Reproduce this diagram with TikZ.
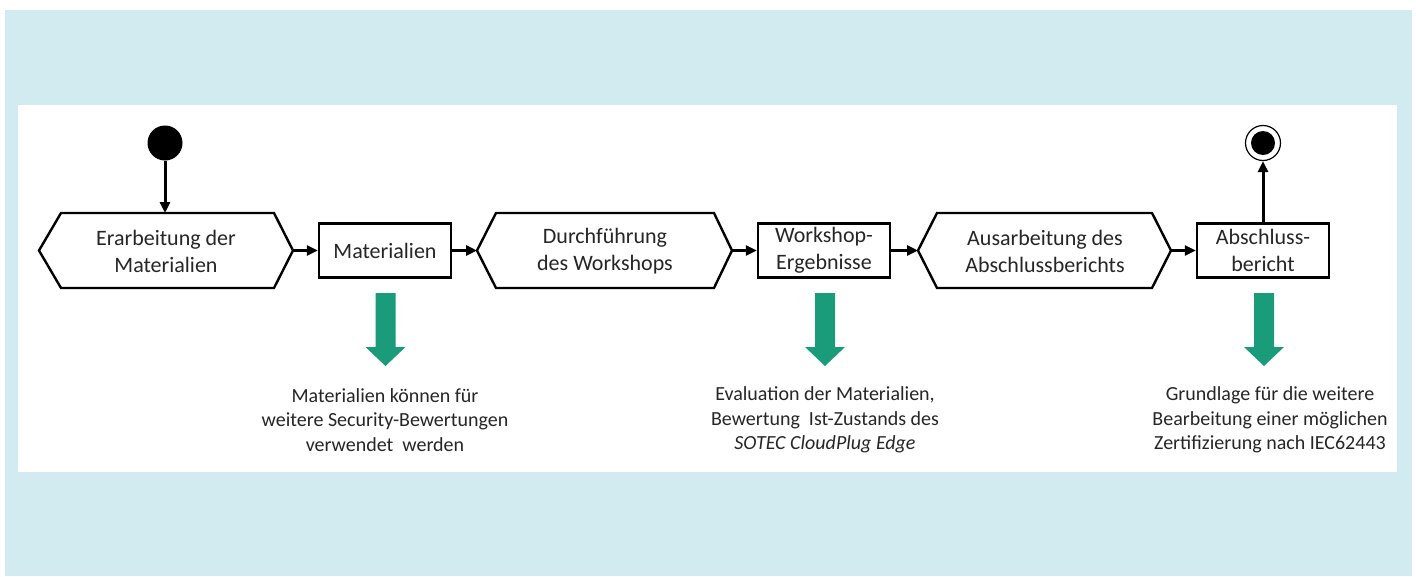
\documentclass[tikz,border=0pt]{standalone}
\usepackage{fontspec}
\setmainfont{Carlito}
\usetikzlibrary{arrows.meta}
\definecolor{bgblue}{HTML}{D2EBF0}
\definecolor{arrowgreen}{HTML}{1A9B7A}
\definecolor{txt}{HTML}{262626}
\begin{document}
\begin{tikzpicture}[x=1pt,y=-1pt,
  shapeline/.style={draw=black,line width=2.4pt,line join=miter,fill=white},
  boxtext/.style={text=txt,font=\fontsize{22}{27}\selectfont,align=center,inner sep=0pt},
  notetext/.style={text=txt,font=\fontsize{20}{24.5}\selectfont,align=center,inner sep=0pt},
  actbox/.style={shapeline,minimum width=132pt,minimum height=54pt,inner sep=0pt,text=txt,font=\fontsize{22}{27}\selectfont,align=center},
  flow/.style={line width=3pt,-{Triangle[length=11pt,width=10pt]}},
  bigarrow/.style={fill=arrowgreen,draw=none}
]
\useasboundingbox (0,0) rectangle (1416,576);
\fill[white] (0,0) rectangle (1416,576);
\fill[bgblue] (5,10) rectangle (1412,576);
\fill[white] (18,105) rectangle (1397,472);

% hexagon 1
\coordinate (h1l) at (39,250.5);
\coordinate (h1r) at (293,250.5);
\coordinate (h1t) at (165,213);
\draw[shapeline] (h1l) -- (61,213) -- (274,213) -- (h1r) -- (274,288) -- (61,288) -- cycle;
\node[boxtext] (h1) at (166,251) {Erarbeitung der\\Materialien};

% box 1
\node[actbox] (b1) at (385,250.5) {Materialien};

% hexagon 2
\coordinate (h2l) at (477,250.5);
\coordinate (h2r) at (732,250.5);
\draw[shapeline] (h2l) -- (496,213) -- (714,213) -- (h2r) -- (714,288) -- (496,288) -- cycle;
\node[boxtext] (h2) at (605,251) {Durchführung\\des Workshops};

% box 2
\node[actbox] (b2) at (824,250.5) {Workshop-\\Ergebnisse};

% hexagon 3
\coordinate (h3l) at (918,250.5);
\coordinate (h3r) at (1171,250.5);
\draw[shapeline] (h3l) -- (937,213) -- (1152,213) -- (h3r) -- (1152,288) -- (937,288) -- cycle;
\node[boxtext] (h3) at (1045,251) {Ausarbeitung des\\Abschlussberichts};

% box 3
\node[actbox] (b3) at (1263,250.5) {Abschluss-\\bericht};

% start and end
\node[circle,fill=black,minimum size=35pt,inner sep=0pt] (start) at (165,143) {};
\node[circle,draw=black,line width=1.2pt,fill=white,minimum size=35pt,inner sep=0pt] (endring) at (1263,143) {};
\node[circle,fill=black,minimum size=24pt,inner sep=0pt] (enddot) at (1263,143) {};

% connectors
\draw[flow] (start) -- (h1t);
\draw[flow] (h1r) -- (b1.west);
\draw[flow] (b1.east) -- (h2l);
\draw[flow] (h2r) -- (b2.west);
\draw[flow] (b2.east) -- (h3l);
\draw[flow] (h3r) -- (b3.west);
\draw[flow] (b3.north) -- (endring.south);

% green arrows
\foreach \cx in {385.5,825,1264}{
  \fill[bigarrow] (\cx-10,293) -- (\cx+10,293) -- (\cx+10,347) -- (\cx+20,347) -- (\cx,366) -- (\cx-20,347) -- (\cx-10,347) -- cycle;
}

% notes
\node[notetext] (n1) at (385,420) {Materialien können für\\weitere Security-Bewertungen\\verwendet\ \ werden};
\node[notetext] (n2) at (825,420) {Evaluation der Materialien,\\Bewertung\ \ Ist-Zustands des\\\textit{SOTEC CloudPlug Edge}};
\node[notetext] (n3) at (1270,420) {Grundlage für die weitere\\Bearbeitung einer möglichen\\Zertifizierung nach IEC62443};
\end{tikzpicture}
\end{document}
